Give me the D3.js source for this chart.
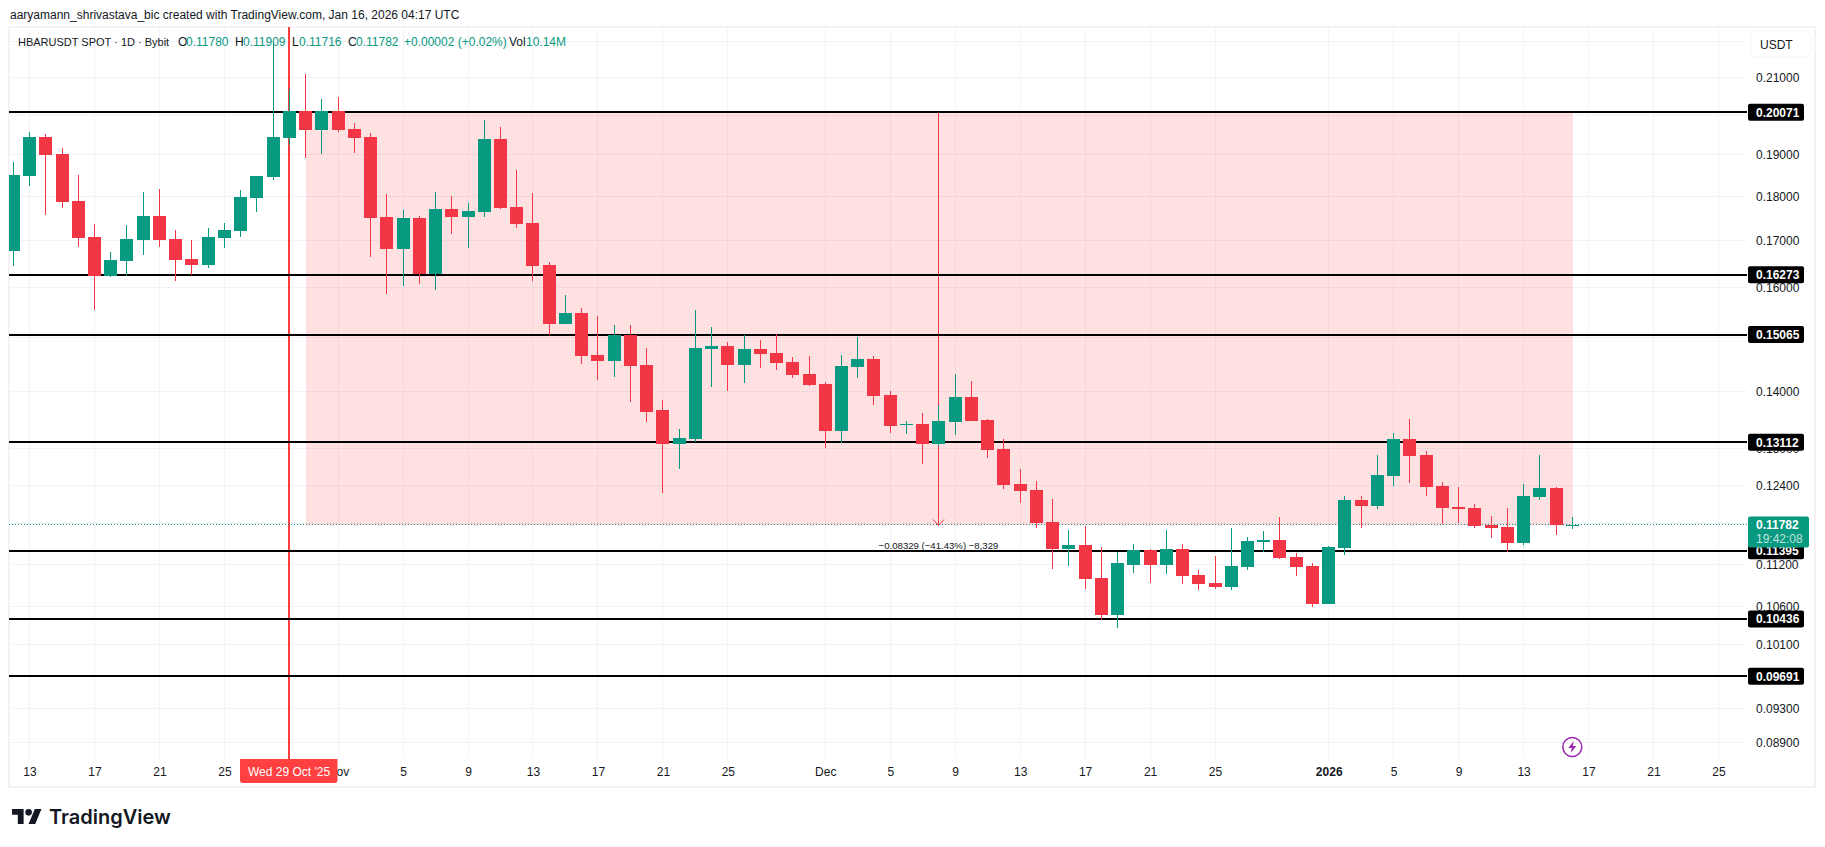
<!DOCTYPE html>
<html>
<head>
<meta charset="utf-8">
<title>HBARUSDT</title>
<script src="https://cdn.jsdelivr.net/npm/d3@7"></script>
<style>
  body { margin: 0; background: #fff; }
  svg { display: block; }
  text { font-family: "Liberation Sans", sans-serif; }
</style>
</head>
<body>
<svg id="chart" width="1825" height="847"></svg>
<script>
// Daily candles, first one is 12 Oct 2025, last one is 16 Jan 2026
let firstDay = new Date(Date.UTC(2025, 9, 12));

let openPrices = [
  .16787, .18494, .19448, .19020, .17903, .17090, .16254, .16574, .17023, .17564,
  .17045, .16616, .16488, .17068, .17226, .17971, .18470, .19423, .20108, .19625,
  .20108, .19650, .19448, .17542, .16829, .17519, .16296, .17722, .17542, .17655,
  .19398, .17767, .17406, .16488, .15278, .15498, .14680, .14568, .15058, .14493,
  .13659, .13084, .13171, .14793, .14849, .14493, .14793, .14718, .14550, .14325,
  .14138, .13310, .14456, .14606, .13937, .13397, .13415, .13084, .13449, .13902,
  .13484, .12997, .12416, .12319, .11834, .11418, .11478, .11003, .10488, .11196,
  .11404, .11196, .11418, .11047, .10935, .10881, .11166, .11522, .11552, .11300,
  .11181, .10637, .11433, .12174, .12077, .12545, .13171, .12900, .12384, .12061,
  .12045, .11789, .11745, .11507, .12223, .12352, .11780
];
let highPrices = [
  .18828, .19574, .19524, .19171, .18518, .17384, .16765, .17361, .18112, .18184,
  .17248, .17023, .17293, .17406, .18160, .18494, .21979, .20690, .21090, .20426,
  .20479, .19801, .19549, .18064, .17700, .17564, .18112, .18017, .17858, .19877,
  .19700, .18637, .18088, .16552, .15858, .15598, .15438, .15258, .15258, .14811,
  .13850, .13345, .15558, .15218, .14923, .15058, .14961, .15078, .14643, .14662,
  .14176, .14680, .15018, .14662, .14007, .13467, .13606, .13746, .14325, .14194,
  .13502, .13171, .12658, .12465, .12190, .11700, .11760, .11448, .11374, .11493,
  .11420, .11700, .11493, .11122, .11315, .11730, .11596, .11685, .11908, .11359,
  .11211, .11463, .12239, .12239, .12900, .13275, .13502, .12965, .12448, .12368,
  .12110, .11923, .12045, .12416, .12900, .12368, .11909
];
let lowPrices = [
  .16467, .18255, .17587, .17745, .16872, .15558, .16232, .16254, .16701, .16872,
  .16147, .16275, .16424, .16851, .17090, .17655, .18399, .19247, .18924, .19020,
  .19574, .19045, .16659, .15878, .16040, .16083, .15958, .17158, .16851, .17542,
  .17722, .17293, .16147, .15058, .15278, .14512, .14213, .14269, .13815, .13449,
  .12271, .12658, .13118, .14082, .14007, .14157, .14437, .14400, .14250, .14101,
  .13014, .13101, .14250, .13763, .13275, .13258, .12755, .13049, .13240, .13467,
  .12852, .12335, .12126, .11730, .11136, .11181, .10854, .10420, .10312, .11077,
  .10935, .11062, .10921, .10827, .10854, .10840, .11122, .11374, .11270, .11033,
  .10596, .10637, .11329, .11730, .12029, .12384, .12432, .12239, .11804, .11819,
  .11730, .11582, .11374, .11478, .12174, .11626, .11716
];
let closePrices = [
  .18518, .19448, .18995, .17880, .17068, .16254, .16595, .17045, .17564, .17023,
  .16595, .16488, .17090, .17248, .17993, .18494, .19448, .20108, .19625, .20108,
  .19625, .19423, .17519, .16829, .17519, .16296, .17722, .17542, .17677, .19398,
  .17745, .17384, .16467, .15278, .15498, .14662, .14568, .15058, .14475, .13641,
  .13084, .13188, .14811, .14849, .14493, .14793, .14699, .14531, .14307, .14120,
  .13310, .14475, .14606, .13920, .13380, .13415, .13084, .13467, .13902, .13467,
  .12981, .12400, .12303, .11819, .11418, .11478, .10989, .10488, .11211, .11404,
  .11196, .11418, .11033, .10921, .10881, .11181, .11537, .11552, .11285, .11166,
  .10637, .11448, .12174, .12077, .12561, .13171, .12884, .12368, .12045, .12029,
  .11774, .11730, .11507, .12239, .12352, .11780, .11782
];

let lastPrice = 0.11782;
let levelPrices = [0.20071, 0.16273, 0.15065, 0.13112, 0.11395, 0.10436, 0.09691];
let priceTicks = [0.22, 0.21, 0.20, 0.19, 0.18, 0.17, 0.16, 0.15, 0.14, 0.13, 0.124, 0.118, 0.112, 0.106, 0.101, 0.097, 0.093, 0.089];
let labelledTicks = [0.21, 0.19, 0.18, 0.17, 0.16, 0.14, 0.13, 0.124, 0.112, 0.106, 0.101, 0.093, 0.089];

// tick date + text shown on the time axis, 29 Oct sits under the date label so it has no text
let timeTickDates = [
  "2025-10-13", "2025-10-17", "2025-10-21", "2025-10-25", "2025-10-29", "2025-11-01", "2025-11-05",
  "2025-11-09", "2025-11-13", "2025-11-17", "2025-11-21", "2025-11-25", "2025-12-01", "2025-12-05",
  "2025-12-09", "2025-12-13", "2025-12-17", "2025-12-21", "2025-12-25", "2026-01-01", "2026-01-05",
  "2026-01-09", "2026-01-13", "2026-01-17", "2026-01-21", "2026-01-25"
];
let timeTickLabels = ["13", "17", "21", "25", "", "Nov", "5", "9", "13", "17", "21", "25", "Dec", "5", "9", "13", "17", "21", "25", "2026", "5", "9", "13", "17", "21", "25"];
let boldLabels = ["2026"];

// measure box, drawn from the first candle it touches to the last one
let measureFrom = 0.20104;
let measureTo = 0.11775;
let measureText = "\u22120.08329 (\u221241.43%) \u22128,329";

let legendTexts = [
  "HBARUSDT SPOT \u00b7 1D \u00b7 Bybit", "O", "0.11780", "H", "0.11909", "L", "0.11716",
  "C", "0.11782", "+0.00002 (+0.02%)", "Vol", "10.14M"
];

let legendLeft = [18, 178, 186, 235, 243, 292, 299, 348, 356, 404, 509, 526];
let legendTeal = ["0.11780", "0.11909", "0.11716", "0.11782", "+0.00002 (+0.02%)", "10.14M"];

let upColor = "#089981";
let downColor = "#f23645";
let boxColor = "#ff2a2a";
let gridColor = "#f0f3fa";
let textColor = "#131722";

let paneLeft = 9, paneRight = 1747, paneTop = 27, paneBottom = 759;

let days = d3.utcDay.range(firstDay, d3.utcDay.offset(firstDay, openPrices.length));
let candles = days.map(function(d, i) {
  return { date: d, open: openPrices[i], high: highPrices[i], low: lowPrices[i], close: closePrices[i] };
});

// the chart is on a log price scale
let x = d3.scaleUtc().domain([firstDay, days[days.length - 1]]).range([13.3, 1572.3]);
let y = d3.scaleLog().domain([0.21, 0.089]).range([77.3, 742.3]);

// snap thin lines to the pixel grid so they stay sharp
let crisp = v => Math.floor(v) + 0.5;

let parseDay = d3.utcParse("%Y-%m-%d");
let timeTicks = timeTickDates.map(parseDay);

let svg = d3.select("#chart");

svg.append("defs").append("clipPath").attr("id", "pane")
  .append("rect")
  .attr("x", paneLeft).attr("y", paneTop)
  .attr("width", paneRight - paneLeft).attr("height", paneBottom - paneTop);

// Header line
svg.append("text").attr("x", 10).attr("y", 19)
  .attr("font-size", 12).attr("fill", textColor)
  .text("aaryamann_shrivastava_bic created with TradingView.com, Jan 16, 2026 04:17 UTC");

// Frame
svg.append("rect")
  .attr("x", 9).attr("y", 27).attr("width", 1806).attr("height", 760)
  .attr("fill", "none").attr("stroke", "#f3f3f5").attr("stroke-width", 2);

let pane = svg.append("g").attr("clip-path", "url(#pane)");

// Grid
pane.selectAll("line.hgrid").data(priceTicks).enter().append("line")
  .attr("class", "hgrid")
  .attr("x1", paneLeft).attr("x2", paneRight)
  .attr("y1", d => crisp(y(d))).attr("y2", d => crisp(y(d)))
  .attr("stroke", gridColor);
pane.selectAll("line.vgrid").data(timeTicks).enter().append("line")
  .attr("class", "vgrid")
  .attr("x1", d => crisp(x(d))).attr("x2", d => crisp(x(d)))
  .attr("y1", paneTop).attr("y2", paneBottom)
  .attr("stroke", gridColor);

// Pink measure box
pane.append("rect")
  .attr("x", Math.round(x(days[18])))
  .attr("y", y(measureFrom))
  .attr("width", Math.round(x(days[96]) - x(days[18])))
  .attr("height", y(measureTo) - y(measureFrom))
  .attr("fill", boxColor).attr("fill-opacity", 0.14);

// Measure arrow
let arrowX = crisp(x(days[57]));
pane.append("line")
  .attr("x1", arrowX).attr("x2", arrowX)
  .attr("y1", y(measureFrom)).attr("y2", y(measureTo))
  .attr("stroke", downColor);
pane.append("path")
  .attr("d", d3.line()([[arrowX - 5.5, y(measureTo) - 6], [arrowX, y(measureTo)], [arrowX + 5.5, y(measureTo) - 6]]))
  .attr("fill", "none").attr("stroke", downColor);

// Crosshair date line
let crossX = Math.round(x(parseDay("2025-10-29")));
pane.append("line")
  .attr("x1", crossX).attr("x2", crossX)
  .attr("y1", paneTop).attr("y2", paneBottom)
  .attr("stroke", "#ff3d3d").attr("stroke-width", 2);

// Last price dotted line
pane.append("line")
  .attr("x1", paneLeft).attr("x2", paneRight)
  .attr("y1", crisp(y(lastPrice))).attr("y2", crisp(y(lastPrice)))
  .attr("stroke", upColor).attr("stroke-dasharray", "1 2");

// Horizontal levels
pane.selectAll("line.level").data(levelPrices).enter().append("line")
  .attr("class", "level")
  .attr("x1", paneLeft).attr("x2", paneRight)
  .attr("y1", d => Math.round(y(d))).attr("y2", d => Math.round(y(d)))
  .attr("stroke", "#000").attr("stroke-width", 2);

// Candles
let candle = pane.selectAll("g.candle").data(candles).enter().append("g").attr("class", "candle");
candle.append("line")
  .attr("x1", d => crisp(x(d.date))).attr("x2", d => crisp(x(d.date)))
  .attr("y1", d => Math.round(y(d.high))).attr("y2", d => Math.round(y(d.low)))
  .attr("stroke", d => d.close >= d.open ? upColor : downColor);
candle.append("rect")
  .attr("x", d => Math.floor(x(d.date)) - 6)
  .attr("width", 13)
  .attr("y", d => Math.round(y(Math.max(d.open, d.close))))
  .attr("height", d => Math.max(1, Math.round(y(Math.min(d.open, d.close))) - Math.round(y(Math.max(d.open, d.close)))))
  .attr("fill", d => d.close >= d.open ? upColor : downColor);

// Measure label
pane.append("text")
  .attr("x", arrowX).attr("y", 549)
  .attr("text-anchor", "middle").attr("font-size", 9.6).attr("fill", textColor)
  .text(measureText);

// Price axis
let priceAxis = d3.axisRight(y)
  .tickValues(labelledTicks)
  .tickSize(0).tickPadding(0)
  .tickFormat(d3.format(".5f"));
let priceG = svg.append("g").attr("transform", "translate(1756,0)").call(priceAxis);
priceG.select(".domain").remove();
priceG.selectAll("text").attr("font-size", 12).attr("fill", textColor).style("font-family", "'Liberation Sans', sans-serif");

// Time axis
let timeAxis = d3.axisBottom(x)
  .tickValues(timeTicks)
  .tickSize(0).tickPadding(0)
  .tickFormat((d, i) => timeTickLabels[i]);
let timeG = svg.append("g").attr("transform", "translate(0,767)").call(timeAxis);
timeG.select(".domain").remove();
timeG.selectAll("text")
  .attr("font-size", 12).attr("fill", textColor)
  .attr("font-weight", (d, i) => boldLabels.includes(timeTickLabels[i]) ? "bold" : "normal")
  .style("font-family", "'Liberation Sans', sans-serif");

// Date label under the crosshair
svg.append("path")
  .attr("d", "M240 759H337.5V780a3 3 0 0 1 -3 3H243a3 3 0 0 1 -3 -3Z")
  .attr("fill", "#ff4040");
svg.append("text")
  .attr("x", crossX).attr("y", 775.5)
  .attr("text-anchor", "middle").attr("font-size", 12).attr("fill", "#fff")
  .text("Wed 29 Oct '25");

// Level tags on the price axis
let tag = svg.selectAll("g.tag").data(levelPrices).enter().append("g").attr("class", "tag");
tag.append("rect")
  .attr("x", 1748).attr("width", 56)
  .attr("y", d => y(d) - 8.5).attr("height", 17).attr("rx", 2)
  .attr("fill", "#000");
tag.append("text")
  .attr("x", 1756).attr("y", d => y(d) + 4.5)
  .attr("font-size", 12).attr("fill", "#fff").attr("font-weight", "bold")
  .text(d => d3.format(".5f")(d));

// Last price tag
svg.append("rect")
  .attr("x", 1748).attr("y", y(lastPrice) - 8.5).attr("width", 61).attr("height", 31).attr("rx", 2)
  .attr("fill", upColor);
svg.append("text").attr("x", 1756).attr("y", y(lastPrice) + 4.5)
  .attr("font-size", 12).attr("font-weight", "bold").attr("fill", "#fff").text(d3.format(".5f")(lastPrice));
svg.append("text").attr("x", 1756).attr("y", y(lastPrice) + 18.5)
  .attr("font-size", 12).attr("fill", "#fff").attr("fill-opacity", 0.75).text("19:42:08");

// USDT button
svg.append("rect")
  .attr("x", 1751).attr("y", 31).attr("width", 60).attr("height", 26).attr("rx", 6)
  .attr("fill", "#fff").attr("stroke", "#f0f3fa");
svg.append("text").attr("x", 1760).attr("y", 49)
  .attr("font-size", 12).attr("fill", textColor).text("USDT");

// Legend, the symbol text is narrower than the values
svg.selectAll("text.legend").data(legendTexts).enter().append("text")
  .attr("class", "legend")
  .attr("x", (d, i) => legendLeft[i]).attr("y", 46)
  .attr("font-size", (d, i) => i == 0 ? 11 : 12)
  .attr("fill", d => legendTeal.includes(d) ? upColor : textColor)
  .text(d => d);

// Lightning badge at the last candle
let badge = svg.append("g").attr("transform", "translate(" + x(days[96]) + ",747)");
badge.append("circle").attr("r", 9.5).attr("fill", "#fff").attr("stroke", "#9c27b0").attr("stroke-width", 1.5);
badge.append("path").attr("d", "M1.5 -6L-4 1H-0.5L-1.5 6L4 -1H0.5Z").attr("fill", "#9c27b0");

// Logo
let logo = svg.append("g").attr("transform", "translate(12,805.7) scale(0.83)").attr("fill", "#131722");
logo.append("path").attr("d", "M14 22H7V11H0V4h14v18ZM28 22h-8l7.5-18h8L28 22Z");
logo.append("circle").attr("cx", 20).attr("cy", 8).attr("r", 4);
svg.append("text").attr("x", 49).attr("y", 824)
  .style("font-family", "Inter, sans-serif")
  .attr("font-size", 20).attr("font-weight", 600).attr("fill", "#131722")
  .text("TradingView");
</script>
</body>
</html>
